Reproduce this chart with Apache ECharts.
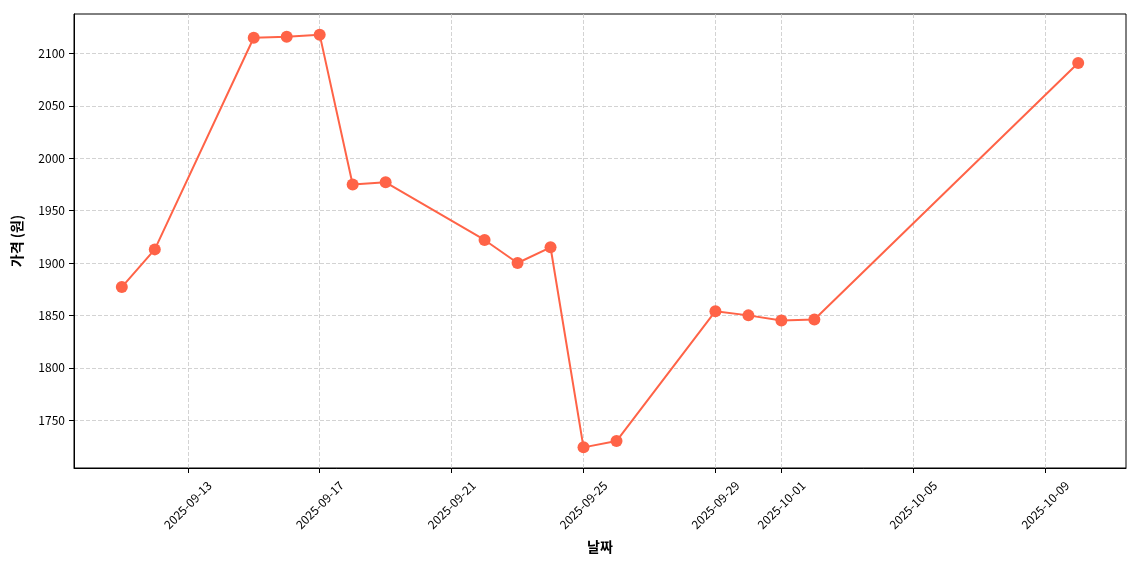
<!DOCTYPE html>
<html><head><meta charset="utf-8">
<script src="https://cdn.jsdelivr.net/npm/echarts@6/dist/echarts.min.js"></script>
<style>html,body{margin:0;padding:0;background:#fff}#c{width:1140px;height:570px}</style>
</head><body><div id="c"></div>
<script>
const dates = ['2025-09-11','2025-09-12','2025-09-15','2025-09-16','2025-09-17','2025-09-18','2025-09-19','2025-09-22','2025-09-23','2025-09-24','2025-09-25','2025-09-26','2025-09-29','2025-09-30','2025-10-01','2025-10-02','2025-10-10'];
const prices = [1877,1913,2115,2116,2118,1975,1977,1922,1900,1915,1724,1730,1854,1850,1845,1846,2091];
const xTicks = ['2025-09-13','2025-09-17','2025-09-21','2025-09-25','2025-09-29','2025-10-01','2025-10-05','2025-10-09'];
const yTicks = [1750,1800,1850,1900,1950,2000,2050,2100];

const DAY=86400000;
function dayNum(s){const p=s.split('-').map(Number);return Date.UTC(p[0],p[1]-1,p[2])/DAY;}
function fmt(v){const d=new Date(Math.round(v)*DAY);const m=String(d.getUTCMonth()+1).padStart(2,'0');const dd=String(d.getUTCDate()).padStart(2,'0');return d.getUTCFullYear()+'-'+m+'-'+dd;}
const xs = dates.map(dayNum);
const xmin=xs[0], xmax=xs[xs.length-1], xpad=(xmax-xmin)*0.05;
const ymin=Math.min(...prices), ymax=Math.max(...prices), ypad=(ymax-ymin)*0.05;
const font='"Noto Sans CJK KR", "Noto Sans", sans-serif';
const gridLine={show:true,lineStyle:{color:'#c8c8c8',type:[4,2],width:0.8}};
const chart=echarts.init(document.getElementById('c'));
chart.setOption({
  animation:false,
  textStyle:{fontFamily:font},
  grid:{left:74,right:14,top:14,bottom:102,containLabel:false,show:true,borderColor:'#000',borderWidth:1},
  xAxis:{type:'value',min:xmin-xpad,max:xmax+xpad,
    name:'날짜',nameLocation:'middle',nameGap:72,nameTextStyle:{fontSize:14,fontWeight:'bold',color:'#000',fontFamily:font},
    axisLine:{show:true,onZero:false,lineStyle:{color:'#000',width:1}},
    axisTick:{show:true,length:5,lineStyle:{color:'#000'},customValues:xTicks.map(dayNum)},
    axisLabel:{rotate:45,align:'center',verticalAlign:'middle',fontSize:12,color:'#000',margin:37,formatter:v=>fmt(v),customValues:xTicks.map(dayNum),fontFamily:font},
    splitLine:gridLine},
  yAxis:{type:'value',min:ymin-ypad,max:ymax+ypad,
    name:'가격 (원)',nameLocation:'middle',nameGap:50,nameRotate:90,nameTextStyle:{fontSize:14,fontWeight:'bold',color:'#000',fontFamily:font},
    axisLine:{show:true,onZero:false,lineStyle:{color:'#000',width:1}},
    axisTick:{show:true,length:5,lineStyle:{color:'#000'},customValues:yTicks},
    axisLabel:{fontSize:12,color:'#000',margin:9,formatter:v=>String(v),customValues:yTicks,fontFamily:font},
    splitLine:gridLine},
  series:[{type:'line',data:xs.map((x,i)=>[x,prices[i]]),symbol:'circle',symbolSize:12,
    lineStyle:{color:'#FF6347',width:2},itemStyle:{color:'#FF6347'}}]
});
</script></body></html>
